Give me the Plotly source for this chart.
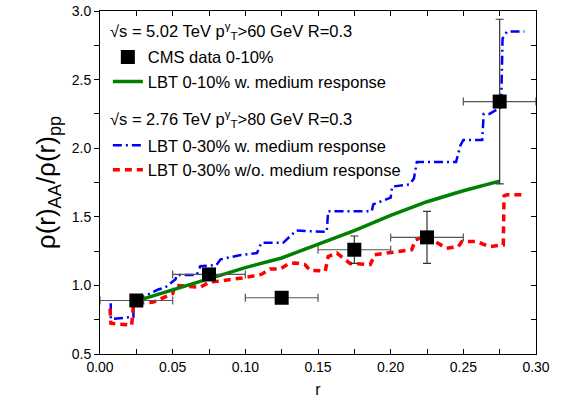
import plotly.graph_objects as go

# ---------------- data ----------------
cms_r = [0.025, 0.075, 0.125, 0.175, 0.225, 0.275]
cms_ratio = [0.89, 1.08, 0.91, 1.26, 1.35, 2.34]
cms_err_r = [0.025, 0.025, 0.025, 0.025, 0.025, 0.025]
cms_err_y = [0.02, 0.02, 0.03, 0.10, 0.19, 0.60]

green_r = [0.023, 0.05, 0.075, 0.10, 0.125, 0.15, 0.175, 0.20, 0.225, 0.25, 0.275]
green_ratio = [0.88, 0.97, 1.05, 1.13, 1.20, 1.30, 1.40, 1.51, 1.61, 1.69, 1.76]

blue_r = [0.0074, 0.0074, 0.023, 0.023, 0.029, 0.040, 0.045, 0.052, 0.053, 0.0665,
          0.069, 0.080, 0.083, 0.096, 0.108, 0.111, 0.126, 0.135, 0.156, 0.157,
          0.187, 0.188, 0.200, 0.201, 0.213, 0.216, 0.218, 0.245, 0.248, 0.250,
          0.263, 0.264, 0.268, 0.276, 0.277, 0.280, 0.292]
blue_ratio = [0.87, 0.755, 0.77, 0.88, 0.914, 0.97, 0.986, 1.045, 1.076, 1.076,
              1.14, 1.148, 1.19, 1.22, 1.236, 1.31, 1.31, 1.40, 1.39, 1.54,
              1.54, 1.59, 1.64, 1.72, 1.736, 1.78, 1.90, 1.90, 2.02, 2.06,
              2.06, 2.25, 2.25, 2.30, 2.80, 2.85, 2.85]

red_r = [0.0069, 0.0075, 0.0218, 0.0225, 0.023, 0.024, 0.0367, 0.050, 0.0516, 0.0688,
         0.0757, 0.081, 0.0998, 0.111, 0.117, 0.124, 0.130, 0.134, 0.141, 0.1445,
         0.155, 0.157, 0.163, 0.172, 0.186, 0.189, 0.198, 0.2145, 0.217, 0.225,
         0.232, 0.2385, 0.2466, 0.249, 0.259, 0.268, 0.2775, 0.278, 0.280, 0.291]
red_ratio = [0.83, 0.724, 0.71, 0.77, 0.855, 0.866, 0.879, 0.94, 1.0, 0.986,
             1.026, 1.03, 1.057, 1.08, 1.12, 1.12, 1.16, 1.164, 1.152, 1.11,
             1.105, 1.21, 1.236, 1.16, 1.152, 1.224, 1.236, 1.26, 1.33, 1.366,
             1.31, 1.27, 1.283, 1.32, 1.32, 1.283, 1.295, 1.652, 1.66, 1.66]

x_ticks = [0.0, 0.05, 0.10, 0.15, 0.20, 0.25, 0.30]
y_ticks = [0.5, 1.0, 1.5, 2.0, 2.5, 3.0]

FONT = "Liberation Sans, Arial, sans-serif"

fig = go.Figure()

# ---------------- model curves ----------------
fig.add_trace(go.Scatter(
    x=blue_r, y=blue_ratio, mode="lines",
    name="LBT 0-30% w. medium response",
    line=dict(color="#0000FF", width=2.5, dash="9px,4px,2px,4px"),
    legend="legend2"
))

fig.add_trace(go.Scatter(
    x=red_r, y=red_ratio, mode="lines",
    name="LBT 0-30% w/o. medium response",
    line=dict(color="#FF0000", width=3.5, dash="7px,5px"),
    legend="legend2"
))

fig.add_trace(go.Scatter(
    x=green_r, y=green_ratio, mode="lines",
    name="LBT 0-10% w. medium response",
    line=dict(color="#008000", width=3.5),
    legend="legend"
))

# ---------------- CMS data ----------------
fig.add_trace(go.Scatter(
    x=cms_r, y=cms_ratio, mode="markers",
    name="CMS data 0-10%",
    marker=dict(symbol="square", size=14, color="black"),
    error_x=dict(type="data", array=cms_err_r, color="#555555", thickness=1.2, width=4),
    error_y=dict(type="data", array=cms_err_y, color="#333333", thickness=1.2, width=4),
    legend="legend"
))

# dummy trace so the right-hand axis is drawn
fig.add_trace(go.Scatter(x=[None], y=[None], yaxis="y2", showlegend=False))

# ---------------- legend headers ----------------
fig.add_annotation(
    text="\u221as = 5.02 TeV p<sup>\u03b3</sup><sub>T</sub>>60 GeV R=0.3",
    xref="paper", yref="paper", x=0.018, y=0.941,
    xanchor="left", yanchor="middle", showarrow=False,
    font=dict(size=16.5, color="black", family=FONT)
)
fig.add_annotation(
    text="\u221as = 2.76 TeV p<sup>\u03b3</sup><sub>T</sub>>80 GeV R=0.3",
    xref="paper", yref="paper", x=0.018, y=0.686,
    xanchor="left", yanchor="middle", showarrow=False,
    font=dict(size=16.5, color="black", family=FONT)
)

fig.update_layout(
    width=564,
    height=402,
    margin=dict(l=100, r=28, t=3, b=48),
    plot_bgcolor="white",
    paper_bgcolor="white",
    font=dict(family=FONT, size=14, color="black"),
    legend=dict(
        x=0.018, y=0.916, xanchor="left", yanchor="top",
        bgcolor="rgba(0,0,0,0)", font=dict(size=16.5),
        traceorder="reversed", itemwidth=30, tracegroupgap=0
    ),
    legend2=dict(
        x=0.018, y=0.659, xanchor="left", yanchor="top",
        bgcolor="rgba(0,0,0,0)", font=dict(size=16.5),
        traceorder="normal", itemwidth=30, tracegroupgap=0
    ),
    xaxis=dict(
        range=[0, 0.30], tickvals=x_ticks, tickformat=".2f",
        ticks="inside", ticklen=5, tickcolor="black",
        minor=dict(dtick=0.025, ticks="inside", ticklen=5, tickcolor="black"),
        showline=True, linecolor="black", linewidth=1, mirror="ticks",
        showgrid=False, zeroline=False,
        title=dict(text="r", font=dict(size=16), standoff=10),
        tickfont=dict(size=14)
    ),
    yaxis=dict(
        range=[0.5, 3.0], tickvals=y_ticks, tickformat=".1f",
        ticks="outside", ticklen=5, tickcolor="black",
        minor=dict(dtick=0.25, ticks="outside", ticklen=5, tickcolor="black"),
        showline=True, linecolor="black", linewidth=1, mirror=True,
        showgrid=False, zeroline=False, ticklabeloverflow="allow",
        title=dict(text="\u03c1(r)<sub>AA</sub>/\u03c1(r)<sub>pp</sub>", font=dict(size=26), standoff=8),
        tickfont=dict(size=14)
    ),
    yaxis2=dict(
        overlaying="y", side="right", matches="y", range=[0.5, 3.0],
        tickvals=y_ticks, showticklabels=False,
        ticks="inside", ticklen=5, tickcolor="black",
        minor=dict(dtick=0.25, ticks="inside", ticklen=5, tickcolor="black"),
        showline=False, showgrid=False, zeroline=False
    ),
    showlegend=True
)

fig.write_html(
    "out.html",
    config={"displayModeBar": False},
    post_script="document.body.style.margin='0';"
)
